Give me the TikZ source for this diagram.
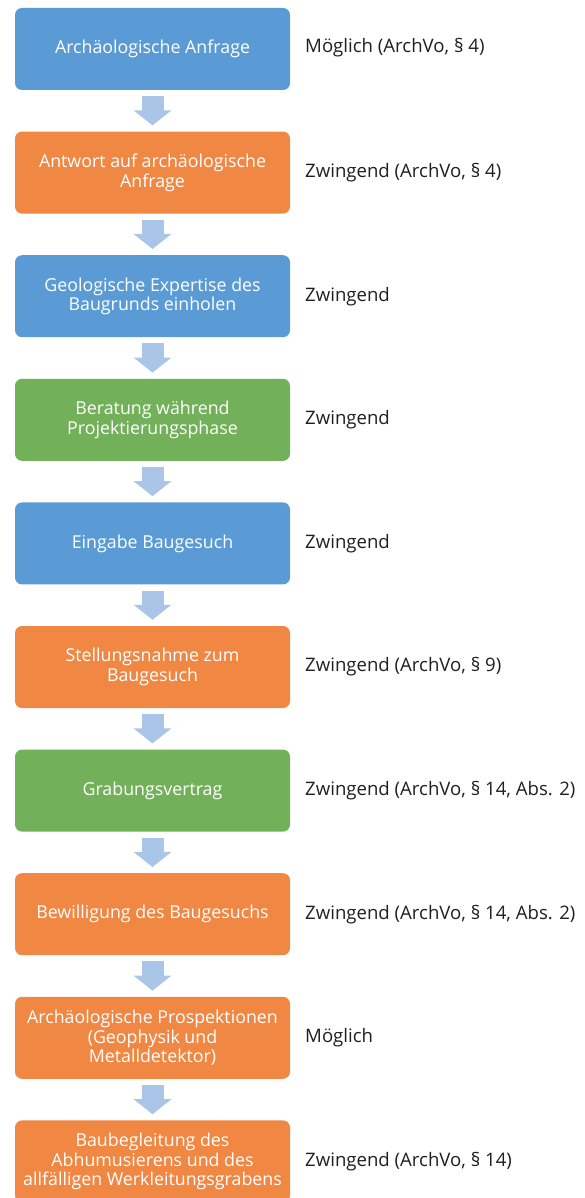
\documentclass[tikz,border=0pt]{standalone}
\usepackage{fontspec}
\setmainfont{Open Sans}
\usetikzlibrary{arrows.meta}
\definecolor{bblue}{HTML}{5B9BD5}
\definecolor{borange}{HTML}{F08743}
\definecolor{bgreen}{HTML}{72B05A}
\definecolor{arrowc}{HTML}{A9C5E8}
\definecolor{labelc}{HTML}{1F1F1F}
\tikzset{
  stepbox/.style={rounded corners=7pt, minimum width=275pt, minimum height=82pt,
    text=white, align=center, font=\fontsize{17.8}{19.5}\selectfont, inner sep=1pt},
  bluebox/.style={stepbox, fill=bblue},
  orangebox/.style={stepbox, fill=borange},
  greenbox/.style={stepbox, fill=bgreen},
  sidelabel/.style={anchor=west, text=labelc, font=\fontsize{18.6}{20}\selectfont, inner sep=0pt},
  bigarrow/.style={draw=arrowc, line width=22pt, shorten <=6pt, shorten >=6pt,
    -{Triangle[width=37pt, length=15pt]}}
}
\begin{document}
\begin{tikzpicture}
\useasboundingbox (0,0) rectangle (584pt,-1198pt);
\begin{scope}
\clip (0,0) rectangle (584pt,-1198pt);
\node[bluebox]   (b1)  at (152.5pt,-49pt)     {Archäologische Anfrage};
\node[orangebox] (b2)  at (152.5pt,-172.6pt)  {Antwort auf archäologische\\Anfrage};
\node[bluebox]   (b3)  at (152.5pt,-296.2pt)  {Geologische Expertise des\\Baugrunds einholen};
\node[greenbox]  (b4)  at (152.5pt,-419.8pt)  {Beratung während\\Projektierungsphase};
\node[bluebox]   (b5)  at (152.5pt,-543.4pt)  {Eingabe Baugesuch};
\node[orangebox] (b6)  at (152.5pt,-667pt)    {Stellungsnahme zum\\Baugesuch};
\node[greenbox]  (b7)  at (152.5pt,-790.6pt)  {Grabungsvertrag};
\node[orangebox] (b8)  at (152.5pt,-914.2pt)  {Bewilligung des Baugesuchs};
\node[orangebox] (b9)  at (152.5pt,-1037.8pt) {Archäologische Prospektionen\\(Geophysik und\\Metalldetektor)};
\node[orangebox] (b10) at (152.5pt,-1161.4pt) {Baubegleitung des\\Abhumusierens und des\\allfälligen Werkleitungsgrabens};
\foreach \a/\b in {b1/b2,b2/b3,b3/b4,b4/b5,b5/b6,b6/b7,b7/b8,b8/b9,b9/b10}
  \draw[bigarrow] (\a.south) -- (\b.north);
\node[sidelabel] (l1)  at (305pt,-48pt)     {Möglich (ArchVo, § 4)};
\node[sidelabel] (l2)  at (305pt,-172.6pt)  {Zwingend (ArchVo, § 4)};
\node[sidelabel] (l3)  at (305pt,-296.2pt)  {Zwingend};
\node[sidelabel] (l4)  at (305pt,-419.8pt)  {Zwingend};
\node[sidelabel] (l5)  at (305pt,-543.4pt)  {Zwingend};
\node[sidelabel] (l6)  at (305pt,-667pt)    {Zwingend (ArchVo, § 9)};
\node[sidelabel] (l7)  at (305pt,-790.6pt)  {Zwingend (ArchVo, § 14, Abs. 2)};
\node[sidelabel] (l8)  at (305pt,-914.2pt)  {Zwingend (ArchVo, § 14, Abs. 2)};
\node[sidelabel] (l9)  at (305pt,-1037.8pt) {Möglich};
\node[sidelabel] (l10) at (305pt,-1161.4pt) {Zwingend (ArchVo, § 14)};
\end{scope}
\end{tikzpicture}
\end{document}
